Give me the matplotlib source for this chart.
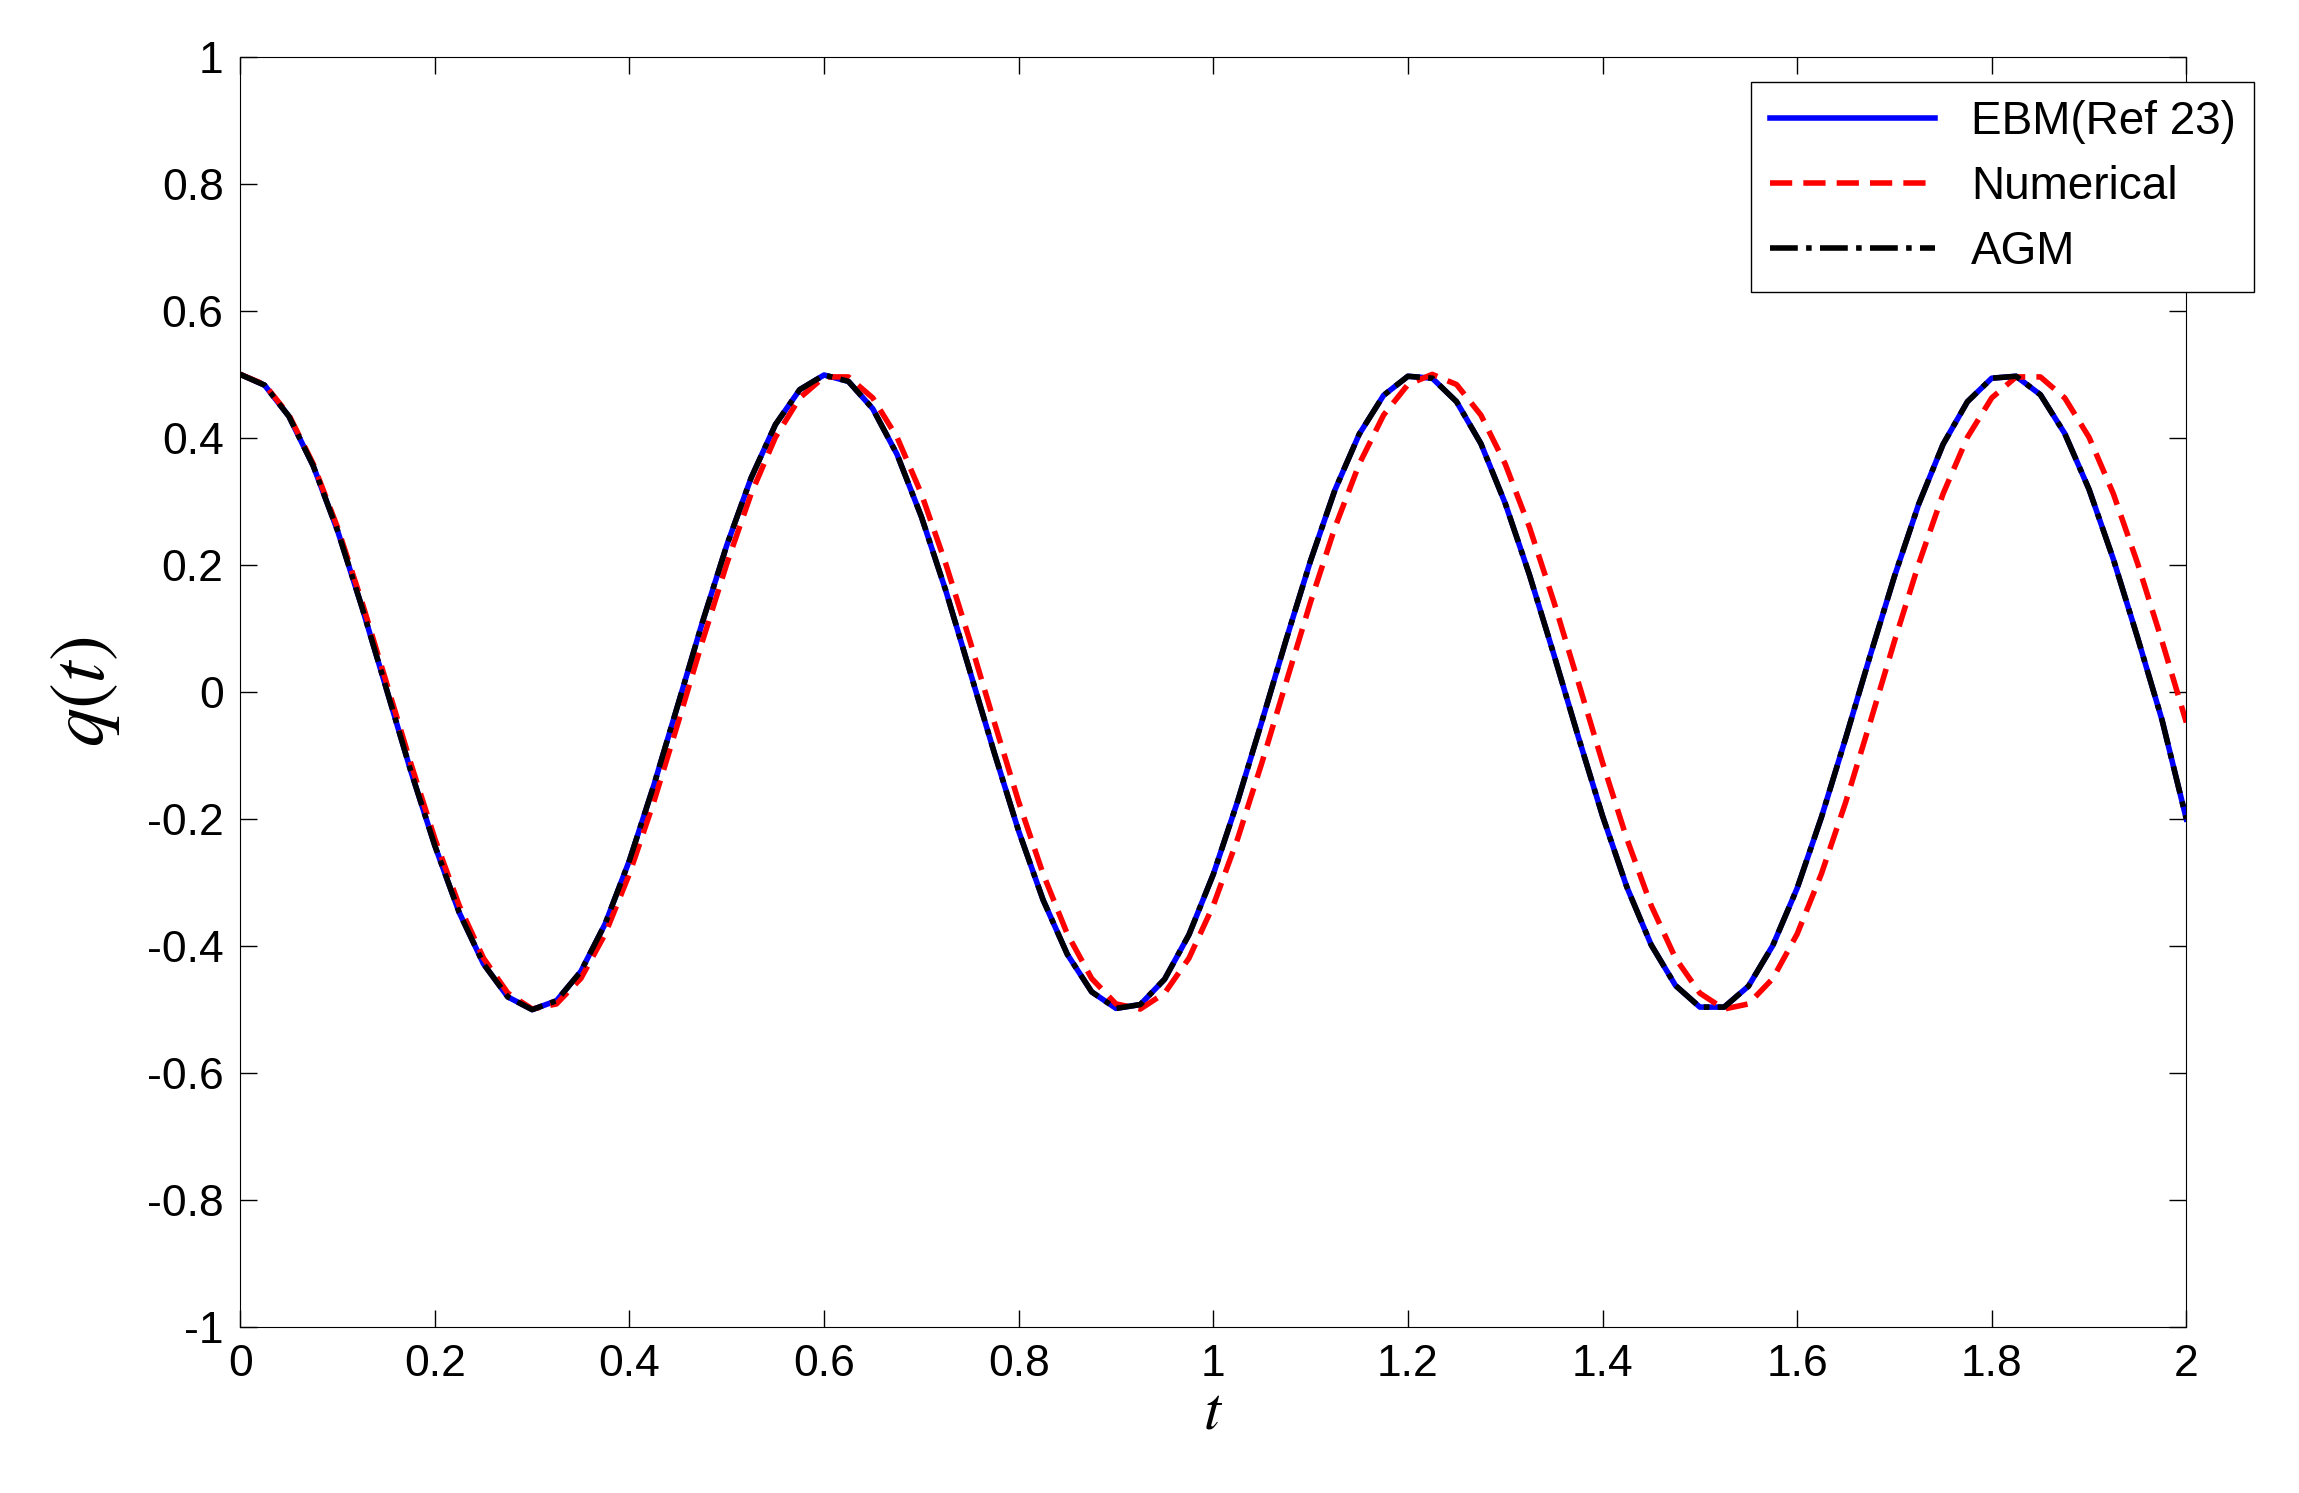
import numpy as np
import matplotlib
matplotlib.use("Agg")
import matplotlib.pyplot as plt

plt.rcParams['font.family'] = ['Liberation Sans', 'DejaVu Sans']
plt.rcParams['mathtext.fontset'] = 'stix'

t = [i * 0.025 for i in range(81)]
ebm = [.5,.483,.434,.356,.254,.134,.006,-.123,-.242,-.347,-.428,-.480,-.500,-.486,-.440,-.365,-.265,-.147,-.019,.110,
       .231,.337,.421,.476,.499,.489,.446,.374,.276,.160,.032,-.096,-.219,-.327,-.413,-.472,-.498,-.492,-.452,-.382,
       -.287,-.172,-.046,.083,.207,.318,.406,.467,.497,.494,.457,.391,.297,.184,.059,-.070,-.195,-.307,-.398,-.462,
       -.496,-.496,-.463,-.399,-.309,-.197,-.072,.057,.182,.296,.390,.457,.494,.497,.468,.407,.319,.209,.085,-.044,-.200]
agm = list(ebm)
num = [.5,.484,.436,.359,.259,.142,.016,-.111,-.231,-.336,-.419,-.474,-.499,-.491,-.451,-.381,-.286,-.173,-.048,.080,
       .202,.312,.401,.463,.496,.496,.463,.401,.312,.202,.080,-.048,-.173,-.286,-.381,-.451,-.491,-.499,-.474,-.419,
       -.336,-.231,-.111,.016,.142,.259,.359,.436,.484,.5,.484,.436,.359,.259,.142,.016,-.111,-.231,-.336,-.419,
       -.474,-.499,-.491,-.451,-.381,-.286,-.173,-.048,.080,.202,.312,.401,.463,.496,.496,.463,.401,.312,.202,.080,-.048]

xticks = [0, 0.2, 0.4, 0.6, 0.8, 1, 1.2, 1.4, 1.6, 1.8, 2]
xlabels = ["0", "0.2", "0.4", "0.6", "0.8", "1", "1.2", "1.4", "1.6", "1.8", "2"]
yticks = [-1, -0.8, -0.6, -0.4, -0.2, 0, 0.2, 0.4, 0.6, 0.8, 1]
ylabels = ["-1", "-0.8", "-0.6", "-0.4", "-0.2", "0", "0.2", "0.4", "0.6", "0.8", "1"]

fig = plt.figure(figsize=(22.99, 14.93), dpi=100)
ax = fig.add_axes([0.1045, 0.111, 0.8575 - 0.011, 0.851])
ax.plot(t, ebm, color="blue", lw=4, label="EBM(Ref 23)")
ax.plot(t, num, color="red", lw=4, ls=(0, (4, 2)), label="Numerical")
ax.plot(t, agm, color="black", lw=4, ls=(0, (5, 1.5, 1, 1.5)), label="AGM")
ax.set_xlim(0, 2)
ax.set_ylim(-1, 1)
ax.set_xticks(xticks, xlabels)
ax.set_yticks(yticks, ylabels)
ax.tick_params(direction="in", length=12, width=1, labelsize=32, top=True, right=True, pad=12)
ax.set_xlabel("$t$", fontsize=44, labelpad=0)
ax.set_ylabel("$q(t)$", fontsize=56, labelpad=18)
leg = ax.legend(loc="upper right", fontsize=33, fancybox=False, edgecolor="black",
                handlelength=3.6, borderaxespad=0.0, framealpha=1, bbox_to_anchor=(1.035, 0.98),
                labelspacing=0.45)
leg.get_frame().set_linewidth(1)
fig.savefig("out.png", dpi=100)
